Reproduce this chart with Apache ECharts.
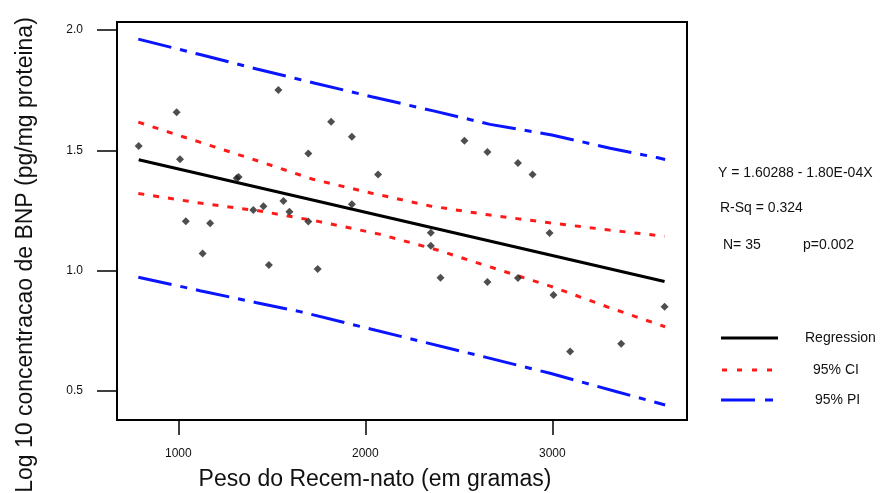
<!DOCTYPE html>
<html>
<head>
<meta charset="utf-8">
<script src="https://cdn.jsdelivr.net/npm/echarts@6/dist/echarts.min.js"></script>
<style>
  html, body { margin: 0; padding: 0; background: #fff; }
  #chart { width: 881px; height: 493px; }
</style>
</head>
<body>
<div id="chart"></div>
<script>
// Newborn weight (g) and log10 BNP concentration (pg/mg protein)
const weightG = [788, 991, 1009, 1040, 1130, 1170, 1312, 1322, 1401, 1455, 1484, 1535, 1562, 1594, 1695, 1695, 1745, 1817, 1928, 1928, 2068, 2350, 2350, 2402, 2530, 2653, 2653, 2816, 2816, 2894, 2985, 3006, 3095, 3368, 3600];
const logBnp  = [1.518, 1.658, 1.463, 1.205, 1.071, 1.197, 1.384, 1.389, 1.252, 1.268, 1.024, 1.751, 1.290, 1.245, 1.487, 1.204, 1.007, 1.619, 1.557, 1.276, 1.400, 1.158, 1.104, 0.971, 1.540, 1.493, 0.953, 1.447, 0.970, 1.400, 1.157, 0.899, 0.664, 0.696, 0.850];

// Fitted line: Y = 1.60288 - 1.80E-04 X
const intercept = 1.60288;
const slope = -1.80e-4;

// 95% confidence band
const ciUpperX = [786, 1107, 1410, 1719, 2034, 2346, 2667, 2984, 3305, 3541, 3600];
const ciUpperY = [1.617, 1.536, 1.460, 1.380, 1.322, 1.269, 1.231, 1.199, 1.169, 1.148, 1.143];
const ciLowerX = [786, 1125, 1437, 1754, 2075, 2385, 2690, 2997, 3300, 3603];
const ciLowerY = [1.321, 1.280, 1.248, 1.204, 1.152, 1.086, 1.010, 0.934, 0.848, 0.767];

// 95% prediction band
const piUpperX = [786, 1116, 1419, 1731, 2034, 2364, 2667, 2997, 3309, 3559, 3603];
const piUpperY = [1.962, 1.898, 1.838, 1.779, 1.723, 1.664, 1.608, 1.564, 1.509, 1.470, 1.462];
const piLowerX = [786, 1116, 1419, 1651, 1901, 2614, 2988, 3345, 3603];
const piLowerY = [0.973, 0.917, 0.867, 0.830, 0.782, 0.646, 0.574, 0.497, 0.442];

// Axis ticks
const xTicks = [1000, 2000, 3000];
const yTicks = [0.5, 1.0, 1.5, 2.0];

const FONT = "'Liberation Sans', Arial, Helvetica, sans-serif";

const zip = (xs, ys) => xs.map((x, i) => [x, ys[i]]);
const xMin = Math.min(...weightG), xMax = Math.max(...weightG);
const regLine = [[xMin, intercept + slope * xMin], [xMax, intercept + slope * xMax]];

const RED = '#ff1a1a', BLUE = '#0a14ff';

const chart = echarts.init(document.getElementById('chart'), null, { renderer: 'canvas' });

chart.setOption({
  animation: false,
  backgroundColor: '#fff',
  grid: {
    left: 117, top: 22, width: 570, height: 398,
    show: true, borderColor: '#000', borderWidth: 2, backgroundColor: 'transparent'
  },
  xAxis: {
    type: 'value', min: 672, max: 3720,
    axisLine: { show: false },
    splitLine: { show: false },
    axisTick: { show: true, inside: false, length: 15, customValues: xTicks, lineStyle: { color: '#000', width: 1.5 } },
    axisLabel: {
      customValues: xTicks, margin: 28, color: '#111', fontSize: 12, fontFamily: FONT,
      formatter: v => String(v)
    }
  },
  yAxis: {
    type: 'value', min: 0.3797, max: 2.0333,
    axisLine: { show: false },
    splitLine: { show: false },
    axisTick: { show: true, inside: false, length: 20, customValues: yTicks, lineStyle: { color: '#000', width: 1.5 } },
    axisLabel: {
      customValues: yTicks, margin: 34, color: '#111', fontSize: 12, fontFamily: FONT,
      formatter: v => v.toFixed(1)
    }
  },
  series: [
    {
      type: 'line', data: zip(piUpperX, piUpperY), symbol: 'none', silent: true,
      lineStyle: { color: BLUE, width: 3, type: [34, 9, 7, 9] }
    },
    {
      type: 'line', data: zip(piLowerX, piLowerY), symbol: 'none', silent: true,
      lineStyle: { color: BLUE, width: 3, type: [34, 9, 7, 9] }
    },
    {
      type: 'line', data: zip(ciUpperX, ciUpperY), symbol: 'none', silent: true,
      lineStyle: { color: RED, width: 3, type: [6, 9] }
    },
    {
      type: 'line', data: zip(ciLowerX, ciLowerY), symbol: 'none', silent: true,
      lineStyle: { color: RED, width: 3, type: [6, 9] }
    },
    {
      type: 'line', data: regLine, symbol: 'none', silent: true,
      lineStyle: { color: '#000', width: 3 }
    },
    {
      type: 'scatter', data: zip(weightG, logBnp), symbol: 'diamond', symbolSize: 8,
      itemStyle: { color: '#222' }, z: 5
    }
  ],
  graphic: [
    // axis titles
    {
      type: 'text', x: 375, y: 480,
      style: { text: 'Peso do Recem-nato (em gramas)', font: '23px ' + FONT, fill: '#111', align: 'center', verticalAlign: 'middle' }
    },
    {
      type: 'text', x: 26, y: 255, rotation: Math.PI / 2,
      style: { text: 'Log 10 concentracao de BNP (pg/mg proteina)', font: '23px ' + FONT, fill: '#111', align: 'center', verticalAlign: 'middle' }
    },
    // fit statistics
    { type: 'text', x: 718, y: 173, style: { text: 'Y = 1.60288 - 1.80E-04X', font: '14px ' + FONT, fill: '#111', verticalAlign: 'middle' } },
    { type: 'text', x: 720, y: 208, style: { text: 'R-Sq = 0.324', font: '14px ' + FONT, fill: '#111', verticalAlign: 'middle' } },
    { type: 'text', x: 723, y: 245, style: { text: 'N= 35', font: '14px ' + FONT, fill: '#111', verticalAlign: 'middle' } },
    { type: 'text', x: 803, y: 245, style: { text: 'p=0.002', font: '14px ' + FONT, fill: '#111', verticalAlign: 'middle' } },
    // legend
    { type: 'line', shape: { x1: 721, y1: 338, x2: 778, y2: 338 }, style: { stroke: '#000', lineWidth: 3 } },
    { type: 'text', x: 805, y: 338, style: { text: 'Regression', font: '14px ' + FONT, fill: '#111', verticalAlign: 'middle' } },
    { type: 'line', shape: { x1: 722, y1: 370, x2: 774, y2: 370 }, style: { stroke: RED, lineWidth: 3, lineDash: [5, 10] } },
    { type: 'text', x: 813, y: 370, style: { text: '95% CI', font: '14px ' + FONT, fill: '#111', verticalAlign: 'middle' } },
    { type: 'line', shape: { x1: 721, y1: 400, x2: 773, y2: 400 }, style: { stroke: BLUE, lineWidth: 3, lineDash: [34, 10, 8, 10] } },
    { type: 'text', x: 815, y: 400, style: { text: '95% PI', font: '14px ' + FONT, fill: '#111', verticalAlign: 'middle' } }
  ]
});
</script>
</body>
</html>
